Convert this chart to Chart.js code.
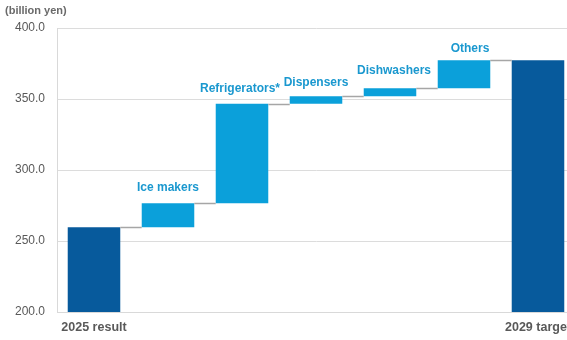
<!DOCTYPE html>
<html>
<head>
<meta charset="utf-8">
<script src="https://cdn.jsdelivr.net/npm/chart.js@4/dist/chart.umd.min.js"></script>
<style>
  html, body { margin: 0; padding: 0; background: #fff; overflow: hidden; width: 567px; height: 340px; }
  #wrap { position: relative; width: 579px; height: 340px; }
  #unit { position: absolute; left: 5px; top: 4px; font: bold 11px "Liberation Sans", Arial, sans-serif; color: #6a6a6a; }
  canvas { display: block; }
</style>
</head>
<body>
<div id="wrap">
  <canvas id="c" width="579" height="340"></canvas>
  <div id="unit">(billion yen)</div>
</div>
<script>
// ---- data ----
const categories = ['2025 result', 'Ice makers', 'Refrigerators*', 'Dispensers', 'Dishwashers', 'Others', '2029 target'];
const barKinds   = ['total', 'step', 'step', 'step', 'step', 'step', 'total'];
const levels     = [259.7, 276.5, 346.7, 352.0, 357.5, 377.3, 377.3]; // running level after each bar
const yTicks     = [200, 250, 300, 350, 400];
const axisBase   = 200;

const darkBlue = '#075a9c';
const lightBlue = '#0ba0da';

const barData = categories.map((c, i) =>
  barKinds[i] === 'total' ? [axisBase, levels[i]] : [levels[i - 1], levels[i]]);

const labelDy = [0, 16, 15, 13, 18, 12, 0];
const labelDx = [0, 0, -2, 0, 4, 6, 0];

const waterfallPlugin = {
  id: 'waterfall',
  afterDatasetsDraw(chart) {
    const ctx = chart.ctx;
    const meta = chart.getDatasetMeta(0);
    const ys = chart.scales.y;
    ctx.save();
    // connectors
    ctx.strokeStyle = '#a6a6a6';
    ctx.lineWidth = 1.5;
    for (let i = 0; i < categories.length - 1; i++) {
      const a = meta.data[i], b = meta.data[i + 1];
      const y = Math.round(ys.getPixelForValue(levels[i])) + 0.5;
      ctx.beginPath();
      ctx.moveTo(a.x + a.width / 2, y);
      ctx.lineTo(b.x - b.width / 2, y);
      ctx.stroke();
    }
    // step labels above bars
    ctx.font = 'bold 12px "Liberation Sans", Arial, sans-serif';
    ctx.fillStyle = '#1a98cf';
    ctx.textAlign = 'center';
    ctx.textBaseline = 'middle';
    for (let i = 0; i < categories.length; i++) {
      if (barKinds[i] !== 'step') continue;
      const el = meta.data[i];
      const top = ys.getPixelForValue(levels[i]);
      ctx.fillText(categories[i], el.x + labelDx[i], top - labelDy[i]);
    }
    ctx.restore();
  }
};

new Chart(document.getElementById('c'), {
  type: 'bar',
  data: {
    labels: categories,
    datasets: [{
      data: barData,
      backgroundColor: barKinds.map(k => k === 'total' ? darkBlue : lightBlue),
      borderWidth: 0,
      barPercentage: 0.71,
      categoryPercentage: 1.0
    }]
  },
  options: {
    responsive: false,
    animation: false,
    layout: { padding: { top: 28, right: 0, left: 0, bottom: 0 } },
    plugins: { legend: { display: false }, tooltip: { enabled: false } },
    scales: {
      x: {
        grid: { display: false, drawTicks: false },
        border: { display: true, color: '#d9d9d9', width: 1 },
        ticks: {
          autoSkip: false,
          maxRotation: 0,
          padding: 8,
          color: '#595959',
          font: { family: '"Liberation Sans", Arial, sans-serif', size: 12.5, weight: 'bold' },
          callback: (v, i) => barKinds[i] === 'total' ? categories[i] : ''
        },
        afterFit: (s) => { s.height = 28; }
      },
      y: {
        min: yTicks[0],
        max: yTicks[yTicks.length - 1],
        afterBuildTicks: (s) => { s.ticks = yTicks.map(v => ({ value: v })); },
        grid: { color: '#dcdcdc', drawTicks: false },
        border: { display: true, color: '#d9d9d9' },
        ticks: {
          padding: 12,
          color: '#595959',
          font: { family: '"Liberation Sans", Arial, sans-serif', size: 12 },
          callback: (v) => Number(v).toFixed(1)
        },
        afterFit: (s) => { s.width = 57; }
      }
    }
  },
  plugins: [waterfallPlugin]
});
</script>
</body>
</html>
